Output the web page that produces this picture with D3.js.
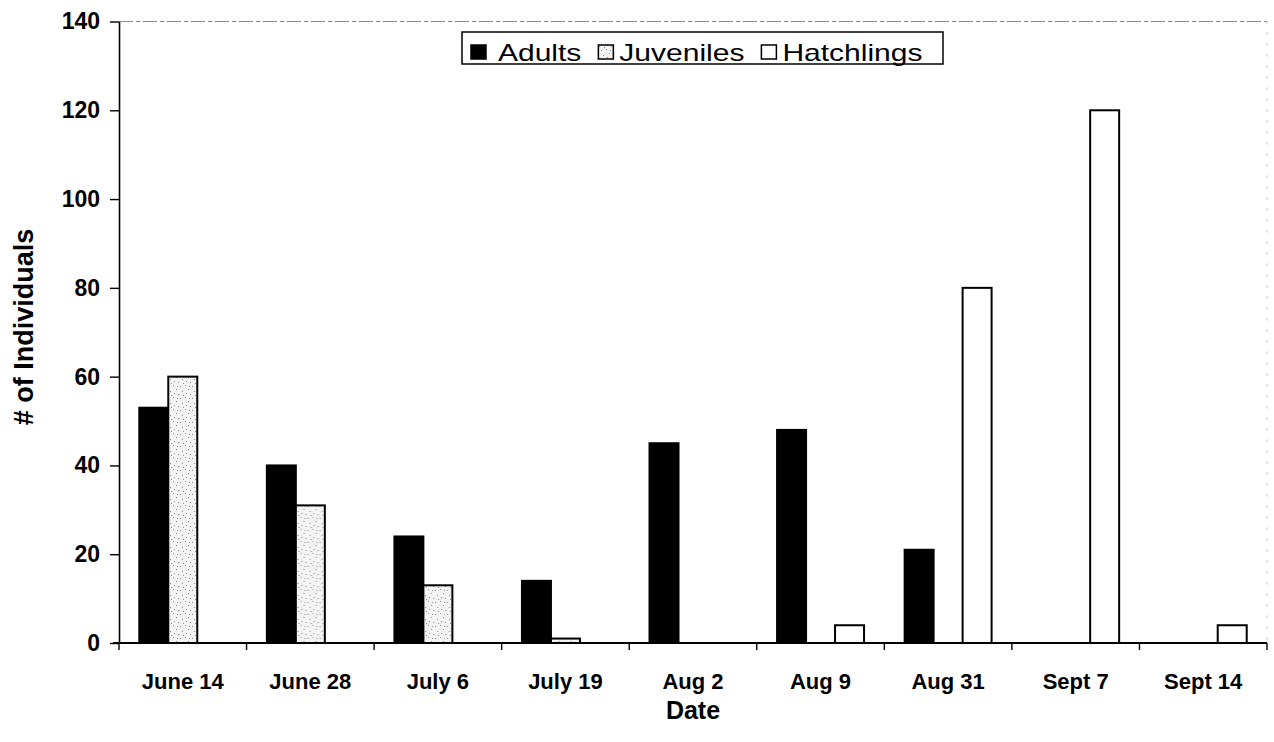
<!DOCTYPE html>
<html>
<head>
<meta charset="utf-8">
<script src="https://cdn.jsdelivr.net/npm/d3@7"></script>
<style>
  html, body { margin: 0; padding: 0; background: #fff; }
  svg { display: block; font-family: "Liberation Sans", Arial, sans-serif; }
</style>
</head>
<body>
<svg id="chart" width="1274" height="742"></svg>
<script>
// Counts of individuals by survey date
const categories = ["June 14", "June 28", "July 6", "July 19", "Aug 2", "Aug 9", "Aug 31", "Sept 7", "Sept 14"];
const seriesNames = ["Adults", "Juveniles", "Hatchlings"];
const adults     = [53, 40, 24, 14, 45, 48, 21, 0, 0];
const juveniles  = [60, 31, 13, 1, 0, 0, 0, 0, 0];
const hatchlings = [0, 0, 0, 0, 0, 4, 80, 120, 4];
const yTicks = [0, 20, 40, 60, 80, 100, 120, 140];

const seriesValues = { Adults: adults, Juveniles: juveniles, Hatchlings: hatchlings };

const svg = d3.select("#chart");
const plot = { left: 119, right: 1267, top: 21.5, bottom: 643 };

// Stippled fill used for the juvenile bars
const defs = svg.append("defs");
const pat = defs.append("pattern")
  .attr("id", "stipple").attr("patternUnits", "userSpaceOnUse")
  .attr("width", 12).attr("height", 12);
pat.append("rect").attr("width", 12).attr("height", 12).attr("fill", "#f3f3f3");
[[1,2],[6,1],[9,5],[3,7],[7,9],[11,10],[4,11],[10,2]].forEach(([dx, dy]) => {
  pat.append("rect").attr("x", dx).attr("y", dy).attr("width", 1).attr("height", 1).attr("fill", "#8c8c8c");
});

const fills = { Adults: "#000", Juveniles: "url(#stipple)", Hatchlings: "#fff" };

const x0 = d3.scaleBand().domain(categories).range([plot.left, plot.right]).paddingInner(0).paddingOuter(0);
const x1 = d3.scaleBand().domain(seriesNames).range([0, x0.bandwidth()]).paddingInner(0).paddingOuter(0.7);
const y = d3.scaleLinear().domain([0, 140]).range([plot.bottom, plot.top]);

// Faint plot-area frame (top and right edges)
svg.append("line")
  .attr("x1", plot.left).attr("x2", plot.right).attr("y1", plot.top).attr("y2", plot.top)
  .attr("stroke", "#8a8a8a").attr("stroke-width", 1).attr("stroke-dasharray", "14,3,4,3");
svg.append("line")
  .attr("x1", plot.right).attr("x2", plot.right).attr("y1", plot.top).attr("y2", plot.bottom)
  .attr("stroke", "#b5b5b5").attr("stroke-width", 1).attr("stroke-dasharray", "2,9");

// Bars
const groups = svg.append("g").selectAll("g")
  .data(categories)
  .join("g")
  .attr("transform", d => `translate(${x0(d)},0)`);

groups.selectAll("rect")
  .data((d, i) => seriesNames.map(s => ({ series: s, value: seriesValues[s][i] })).filter(e => e.value > 0))
  .join("rect")
  .attr("x", d => x1(d.series))
  .attr("width", x1.bandwidth())
  .attr("y", d => y(d.value))
  .attr("height", d => y(0) - y(d.value))
  .attr("fill", d => fills[d.series])
  .attr("stroke", "#000")
  .attr("stroke-width", 2);

// Y axis
const yAxis = svg.append("g")
  .attr("transform", `translate(${plot.left},0)`)
  .call(d3.axisLeft(y).tickValues(yTicks).tickSize(9).tickPadding(10).tickSizeOuter(0));
yAxis.select(".domain").attr("stroke", "#000").attr("stroke-width", 1.6);
yAxis.selectAll(".tick line").attr("stroke", "#000").attr("stroke-width", 1.4);
yAxis.selectAll(".tick text")
  .attr("font-family", "'Liberation Sans', Arial, sans-serif")
  .attr("font-size", 23).attr("font-weight", "bold").attr("fill", "#000");

// X axis line, boundary ticks and category labels
svg.append("line")
  .attr("x1", plot.left - 6).attr("x2", plot.right).attr("y1", plot.bottom).attr("y2", plot.bottom)
  .attr("stroke", "#000").attr("stroke-width", 2);
const boundaries = categories.map(c => x0(c)).concat([x0(categories[categories.length - 1]) + x0.bandwidth()]);
svg.append("g").selectAll("line")
  .data(boundaries)
  .join("line")
  .attr("x1", d => d).attr("x2", d => d)
  .attr("y1", plot.bottom).attr("y2", plot.bottom + 7)
  .attr("stroke", "#000").attr("stroke-width", 1.4);
svg.append("g").selectAll("text")
  .data(categories)
  .join("text")
  .attr("x", d => x0(d) + x0.bandwidth() / 2)
  .attr("y", 689)
  .attr("text-anchor", "middle")
  .attr("font-size", 22).attr("font-weight", "bold")
  .text(d => d);

// Axis titles
svg.append("text")
  .attr("x", (plot.left + plot.right) / 2).attr("y", 719)
  .attr("text-anchor", "middle")
  .attr("font-size", 25).attr("font-weight", "bold")
  .text("Date");
svg.append("text")
  .attr("transform", "translate(33,327) rotate(-90)")
  .attr("text-anchor", "middle")
  .attr("font-size", 27).attr("font-weight", "bold")
  .text("# of Individuals");

// Legend
const legend = svg.append("g");
legend.append("rect")
  .attr("x", 462).attr("y", 32).attr("width", 481).attr("height", 32)
  .attr("fill", "#fff").attr("stroke", "#000").attr("stroke-width", 1.5);
let lx = 471;
const textScale = 1.25;
seriesNames.forEach(name => {
  legend.append("rect")
    .attr("x", lx).attr("y", 45).attr("width", 15).attr("height", 14)
    .attr("fill", fills[name]).attr("stroke", "#000").attr("stroke-width", 1.5);
  const tx = lx + 15 + (name === "Adults" ? 12 : 6);
  const t = legend.append("text")
    .attr("transform", `translate(${tx},61) scale(${textScale},1)`)
    .attr("font-size", 24)
    .text(name);
  const w = t.node().getComputedTextLength() * textScale;
  lx = tx + w + 17;
});
</script>
</body>
</html>
